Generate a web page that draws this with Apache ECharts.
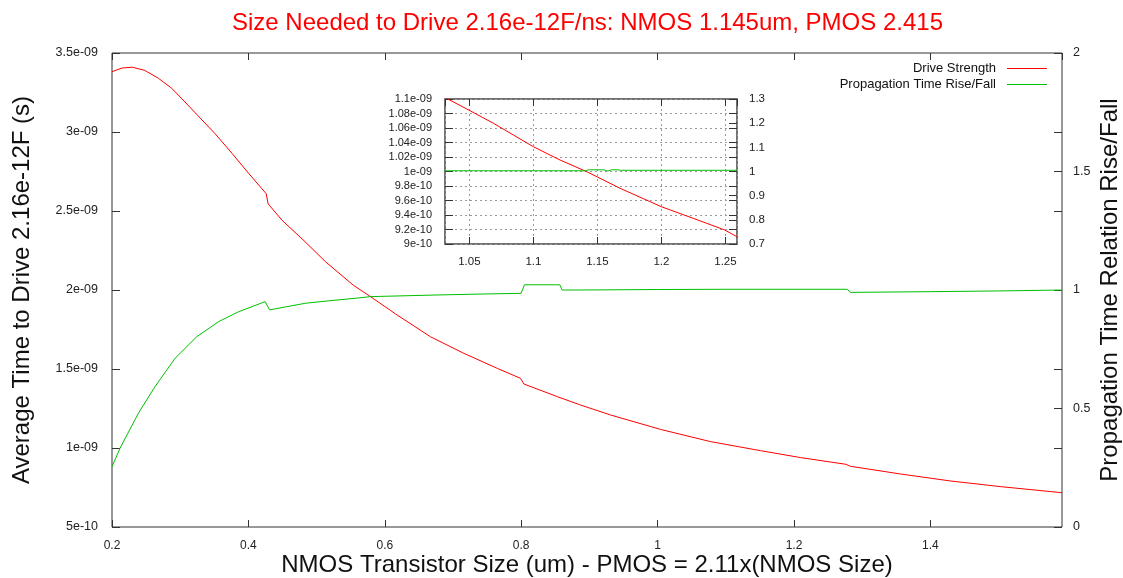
<!DOCTYPE html>
<html>
<head>
<meta charset="utf-8">
<title>Drive strength vs transistor size</title>
<script src="https://cdn.jsdelivr.net/npm/echarts@6/dist/echarts.min.js"></script>
<style>
  html, body { margin: 0; padding: 0; background: #fff; }
  #chart { width: 1123px; height: 578px; }
</style>
</head>
<body>
<div id="chart"></div>
<script>
// ---- data: NMOS size (um) vs average drive time (s) and rise/fall ratio ----
const mainSizeRed = [0.2, 0.215, 0.23, 0.248, 0.268, 0.2875, 0.307, 0.332, 0.351, 0.376, 0.4, 0.426, 0.429, 0.449, 0.483, 0.513, 0.554, 0.579, 0.618, 0.667, 0.716, 0.765, 0.799, 0.804, 0.853, 0.887, 0.931, 1.004, 1.078, 1.151, 1.21, 1.276, 1.283, 1.357, 1.43, 1.504, 1.593];
const mainDriveStrength = [3.382e-9, 3.405e-9, 3.41e-9, 3.39e-9, 3.34e-9, 3.277e-9, 3.19e-9, 3.076e-9, 2.99e-9, 2.865e-9, 2.74e-9, 2.61e-9, 2.545e-9, 2.443e-9, 2.306e-9, 2.179e-9, 2.03e-9, 1.958e-9, 1.842e-9, 1.704e-9, 1.599e-9, 1.504e-9, 1.441e-9, 1.405e-9, 1.325e-9, 1.272e-9, 1.209e-9, 1.118e-9, 1.04e-9, 9.83e-10, 9.39e-10, 8.97e-10, 8.84e-10, 8.35e-10, 7.91e-10, 7.55e-10, 7.17e-10];

const mainSizeGreen = [0.2, 0.2117, 0.2387, 0.263, 0.2925, 0.3243, 0.356, 0.3854, 0.4246, 0.431, 0.4833, 0.52, 0.5567, 0.5787, 0.6766, 0.7427, 0.7999, 0.8048, 0.8567, 0.86, 0.887, 1.0, 1.1, 1.2, 1.278, 1.283, 1.4, 1.5, 1.593];
const mainRiseFall = [0.254, 0.332, 0.48, 0.592, 0.712, 0.803, 0.866, 0.908, 0.951, 0.916, 0.944, 0.955, 0.965, 0.972, 0.979, 0.983, 0.986, 1.022, 1.022, 1.0, 1.0, 1.002, 1.003, 1.003, 1.003, 0.99, 0.993, 0.996, 1.0];

// close-up around the crossing point
const insetSizeRed = [1.031, 1.0505, 1.0688, 1.1, 1.1208, 1.1417, 1.1677, 1.2, 1.2248, 1.2495, 1.259];
const insetDriveStrength = [1.102e-9, 1.0839e-9, 1.0665e-9, 1.0342e-9, 1.0159e-9, 9.997e-10, 9.768e-10, 9.514e-10, 9.354e-10, 9.193e-10, 9.1e-10];
const insetSizeGreen = [1.031, 1.141, 1.143, 1.155, 1.157, 1.159, 1.161, 1.166, 1.168, 1.259];
const insetRiseFall = [1.003, 1.003, 1.007, 1.007, 1.003, 1.003, 1.007, 1.007, 1.005, 1.005];

const seriesNames = ['Drive Strength', 'Propagation Time Rise/Fall'];
const chartTitle = 'Size Needed to Drive 2.16e-12F/ns: NMOS 1.145um, PMOS 2.415';
const xTitle = 'NMOS Transistor Size (um) - PMOS = 2.11x(NMOS Size)';
const yTitle = 'Average Time to Drive 2.16e-12F (s)';
const y2Title = 'Propagation Time Relation Rise/Fall';

// ---- helpers ----
const pairs = (xs, ys) => xs.map((x, i) => [x, ys[i]]);

// printf-style %g exponent labels, e.g. 3.5e-09
function sci(v) {
  if (v === 0) return '0';
  let e = Math.floor(Math.log10(Math.abs(v)));
  let m = parseFloat((v / Math.pow(10, e)).toPrecision(6));
  if (Math.abs(m) >= 10) { m = parseFloat((m / 10).toPrecision(6)); e += 1; }
  return m + 'e' + (e < 0 ? '-' : '+') + String(Math.abs(e)).padStart(2, '0');
}
const plain = v => String(parseFloat(v.toPrecision(6)));

const FONT = 'Liberation Sans, Arial, sans-serif';
const RED = '#ff0000';
const GREEN = '#00c000';
const FRAME = '#333';
const TITLE_SIZE = 24;

const tickIn = len => ({ show: true, inside: true, length: len, lineStyle: { color: FRAME, width: 1 } });
const label = (fmt, size, extra) => Object.assign({
  show: true, color: '#222', fontSize: size, fontFamily: FONT, formatter: fmt
}, extra || {});
const dashed = { show: true, lineStyle: { color: '#9a9a9a', type: [2, 3], width: 1 } };

const chart = echarts.init(document.getElementById('chart'), null, { renderer: 'canvas' });

const option = {
  animation: false,
  backgroundColor: '#fff',
  title: {
    text: chartTitle,
    left: 227,
    top: 6,
    textStyle: { color: RED, fontSize: TITLE_SIZE, fontWeight: 'normal', fontFamily: FONT }
  },
  legend: {
    data: seriesNames,
    orient: 'vertical',
    align: 'right',
    right: 76,
    top: 62,
    itemWidth: 40,
    itemHeight: 13,
    itemGap: 3,
    icon: 'path://M0,0H40V1H0Z',
    textStyle: { color: '#111', fontSize: 13, fontFamily: FONT, padding: [0, 6, 0, 0] },
    padding: 0
  },
  grid: [
    { left: 112, right: 61, top: 53, bottom: 51, outerBoundsMode: 'none', containLabel: false,
      show: true, borderColor: FRAME, borderWidth: 1, backgroundColor: 'transparent' },
    { left: 445, width: 292, top: 99, height: 145, outerBoundsMode: 'none', containLabel: false,
      show: true, borderColor: '#444', borderWidth: 1.5, backgroundColor: '#fff' }
  ],
  xAxis: [
    { // main bottom
      type: 'value', gridIndex: 0, min: 0.2, max: 1.593, interval: 0.2,
      axisLine: { show: false }, axisTick: tickIn(7), splitLine: { show: false },
      axisLabel: label(plain, 12, { margin: 13, showMaxLabel: false }),
      name: xTitle, nameLocation: 'middle', nameGap: 26, nameMoveOverlap: false,
      nameTextStyle: { color: '#111', fontSize: TITLE_SIZE, fontFamily: FONT }
    },
    { // main top mirror ticks
      type: 'value', gridIndex: 0, position: 'top', min: 0.2, max: 1.593, interval: 0.2,
      axisLine: { show: false }, axisTick: tickIn(7), splitLine: { show: false }, axisLabel: { show: false }
    },
    { // inset bottom
      type: 'value', gridIndex: 1, min: 1.031, max: 1.259, splitNumber: 5,
      axisLine: { show: false }, axisTick: tickIn(7), splitLine: dashed,
      axisLabel: label(plain, 11.5, { margin: 12, showMinLabel: false, showMaxLabel: false })
    },
    { // inset top mirror ticks
      type: 'value', gridIndex: 1, position: 'top', min: 1.031, max: 1.259, splitNumber: 5,
      axisLine: { show: false }, axisTick: tickIn(7), splitLine: { show: false }, axisLabel: { show: false }
    }
  ],
  yAxis: [
    { // main left: seconds
      type: 'value', gridIndex: 0, min: 5e-10, max: 3.5e-9, interval: 5e-10,
      axisLine: { show: false }, axisTick: tickIn(8), splitLine: { show: false },
      axisLabel: label(sci, 12.5, { margin: 14 }),
      name: yTitle, nameLocation: 'middle', nameRotate: 90, nameGap: 78, nameMoveOverlap: false,
      nameTextStyle: { color: '#111', fontSize: TITLE_SIZE, fontFamily: FONT }
    },
    { // main right: ratio
      type: 'value', gridIndex: 0, position: 'right', min: 0, max: 2, interval: 0.5,
      axisLine: { show: false }, axisTick: tickIn(8), splitLine: { show: false },
      axisLabel: label(plain, 12.5, { margin: 11 }),
      name: y2Title, nameLocation: 'middle', nameRotate: 90, nameGap: 36, nameMoveOverlap: false,
      nameTextStyle: { color: '#111', fontSize: TITLE_SIZE, fontFamily: FONT }
    },
    { // main right mirror ticks of the left scale
      type: 'value', gridIndex: 0, position: 'right', min: 5e-10, max: 3.5e-9, interval: 5e-10,
      axisLine: { show: false }, axisTick: tickIn(8), splitLine: { show: false }, axisLabel: { show: false }
    },
    { // inset left
      type: 'value', gridIndex: 1, min: 9e-10, max: 1.1e-9, interval: 2e-11,
      axisLine: { show: false }, axisTick: tickIn(8), splitLine: dashed,
      axisLabel: label(sci, 11, { margin: 13 })
    },
    { // inset right
      type: 'value', gridIndex: 1, position: 'right', min: 0.7, max: 1.3, interval: 0.1,
      axisLine: { show: false }, axisTick: tickIn(8), splitLine: { show: false },
      axisLabel: label(plain, 11.5, { margin: 12 })
    },
    { // inset right mirror ticks
      type: 'value', gridIndex: 1, position: 'right', min: 9e-10, max: 1.1e-9, interval: 2e-11,
      axisLine: { show: false }, axisTick: tickIn(8), splitLine: { show: false }, axisLabel: { show: false }
    }
  ],
  series: [
    {
      name: seriesNames[0], type: 'line', xAxisIndex: 0, yAxisIndex: 0,
      data: pairs(mainSizeRed, mainDriveStrength), symbol: 'none', clip: true,
      itemStyle: { color: RED }, lineStyle: { color: RED, width: 1 }
    },
    {
      name: seriesNames[1], type: 'line', xAxisIndex: 0, yAxisIndex: 1,
      data: pairs(mainSizeGreen, mainRiseFall), symbol: 'none', clip: true,
      itemStyle: { color: GREEN }, lineStyle: { color: GREEN, width: 1 }
    },
    {
      name: seriesNames[0], type: 'line', xAxisIndex: 2, yAxisIndex: 3,
      data: pairs(insetSizeRed, insetDriveStrength), symbol: 'none', clip: true,
      itemStyle: { color: RED }, lineStyle: { color: RED, width: 1 }
    },
    {
      name: seriesNames[1], type: 'line', xAxisIndex: 2, yAxisIndex: 4,
      data: pairs(insetSizeGreen, insetRiseFall), symbol: 'none', clip: true,
      itemStyle: { color: GREEN }, lineStyle: { color: GREEN, width: 1 }
    }
  ]
};

chart.setOption(option);
</script>
</body>
</html>
